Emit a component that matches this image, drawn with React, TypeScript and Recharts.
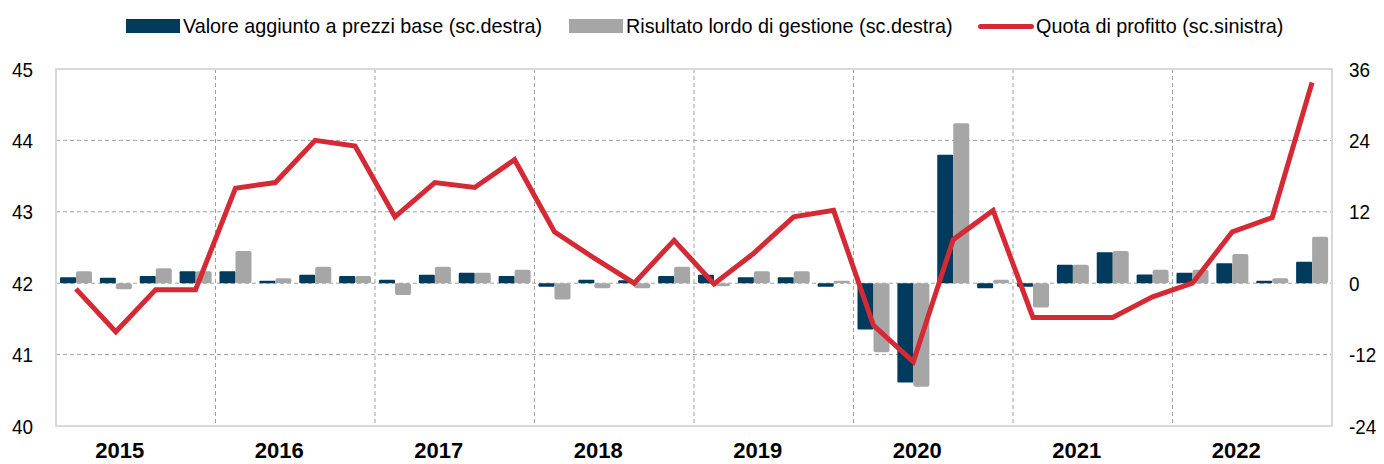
import React from 'react';
import {
  ComposedChart, Bar, Line, XAxis, YAxis, CartesianGrid, ReferenceArea,
} from 'recharts';

const years = ['2015', '2016', '2017', '2018', '2019', '2020', '2021', '2022'];
const quarterLabels = ['T1', 'T2', 'T3', 'T4'];

const valoreAggiunto = [
  1.0, 0.9, 1.2, 2.0,
  2.0, 0.4, 1.4, 1.2,
  0.6, 1.4, 1.75, 1.2,
  -0.6, 0.6, 0.5, 1.2,
  1.4, 1.0, 1.0, -0.6,
  -7.8, -16.7, 21.6, -0.85,
  -0.6, 3.1, 5.2, 1.45,
  1.75, 3.35, 0.4, 3.6,
];

const risultatoLordo = [
  2.0, -1.0, 2.5, 2.0,
  5.4, 0.85, 2.75, 1.2,
  -2.0, 2.75, 1.75, 2.25,
  -2.75, -0.85, -0.85, 2.75,
  -0.5, 2.0, 2.0, 0.4,
  -11.6, -17.4, 26.9, 0.6,
  -4.1, 3.1, 5.4, 2.25,
  2.25, 4.9, 0.85, 7.8,
];

const quotaProfitto = [
  41.92, 41.32, 41.91, 41.91,
  43.33, 43.41, 44.0, 43.92,
  42.93, 43.41, 43.34, 43.73,
  42.72, 42.35, 42.0, 42.6,
  41.99, 42.42, 42.93, 43.02,
  41.41, 40.9, 42.61, 43.02,
  41.52, 41.52, 41.52, 41.81,
  42.0, 42.72, 42.92, 44.81,
];

const leftTicks = [40, 41, 42, 43, 44, 45];
const rightTicks = [-24, -12, 0, 12, 24, 36];
const yearBoundaries = [4, 8, 12, 16, 20, 24, 28];

const data = valoreAggiunto.map((v, i) => ({
  q: `${years[Math.floor(i / 4)]} ${quarterLabels[i % 4]}`,
  year: years[Math.floor(i / 4)],
  idx: i + 0.5,
  va: v,
  rl: risultatoLordo[i],
  qp: quotaProfitto[i],
}));

const DARK = '#003A5C';
const GRAY = '#A6A6A6';
const RED = '#D42A35';
const FONT = '"Liberation Sans", Arial, sans-serif';

const YearTick = (props: any) => {
  const { x, y, index } = props;
  if (index % 4 !== 1) return null;
  return (
    <text
      x={x + 4}
      y={y + 24}
      textAnchor="middle"
      fontFamily={FONT}
      fontWeight="bold"
      fontSize={22}
      fill="#000"
    >
      {data[index].year}
    </text>
  );
};

const TICK_FS = 21;
const CONDENSE = 0.9;

const NumTick = (props: any) => {
  const { x, y, payload, anchor } = props;
  const s = String(payload.value);
  let em = 0;
  for (const ch of s) em += ch === '-' ? 0.333 : 0.556;
  const len = em * TICK_FS * CONDENSE;
  return (
    <text
      x={x}
      y={y}
      dy="0.36em"
      textAnchor={anchor}
      fontFamily={FONT}
      fontSize={TICK_FS}
      fill="#000"
      textLength={len}
      lengthAdjust="spacingAndGlyphs"
    >
      {s}
    </text>
  );
};

const legendItems = [
  { type: 'rect', color: DARK, label: 'Valore aggiunto a prezzi base (sc.destra)', left: 118 },
  { type: 'rect', color: GRAY, label: 'Risultato lordo di gestione (sc.destra)', left: 561 },
  { type: 'line', color: RED, label: 'Quota di profitto (sc.sinistra)', left: 970 },
];

const LegendItem = ({ type, color, label, left }: any) => (
  <div style={{ position: 'absolute', left, top: 5, height: 26, display: 'flex', alignItems: 'center' }}>
    {type === 'rect' ? (
      <div style={{ width: 54, height: 14, background: color, marginRight: 3 }} />
    ) : (
      <div style={{ width: 56, height: 5, background: color, borderRadius: 3, marginRight: 2 }} />
    )}
    <span style={{ fontFamily: FONT, fontSize: 19.8, color: '#000', whiteSpace: 'nowrap' }}>{label}</span>
  </div>
);

export default function App() {
  return (
    <div style={{ position: 'relative', width: 1376, height: 456 }}>
      {legendItems.map((it) => (
        <LegendItem key={it.label} {...it} />
      ))}
      <ComposedChart
        width={1376}
        height={456}
        data={data}
        margin={{ top: 61, right: 0, bottom: 0, left: 0 }}
        barGap={0}
      >
        <XAxis
          dataKey="q"
          xAxisId="cat"
          interval={0}
          axisLine={false}
          tickLine={false}
          tick={<YearTick />}
          height={38}
        />
        <XAxis
          dataKey="idx"
          xAxisId="num"
          type="number"
          domain={[0, 32]}
          allowDataOverflow
          hide
        />
        <YAxis
          yAxisId="left"
          orientation="left"
          domain={[40, 45]}
          ticks={leftTicks}
          interval={0}
          width={48}
          axisLine={false}
          tickLine={false}
          tickSize={0}
          tickMargin={23}
          tick={<NumTick anchor="end" />}
        />
        <YAxis
          yAxisId="right"
          orientation="right"
          domain={[-24, 36]}
          ticks={rightTicks}
          interval={0}
          width={52}
          axisLine={false}
          tickLine={false}
          tickSize={0}
          tickMargin={17}
          tick={<NumTick anchor="start" />}
        />
        <CartesianGrid
          xAxisId="num"
          yAxisId="left"
          horizontalValues={[41, 42, 43, 44]}
          verticalValues={yearBoundaries}
          stroke="#A0A0A0"
          strokeDasharray="4 3"
          strokeWidth={1}
        />
        <ReferenceArea
          xAxisId="num"
          yAxisId="left"
          x1={0}
          x2={32}
          y1={40}
          y2={45}
          fill="none"
          fillOpacity={0}
          stroke="#D9D9D9"
          strokeWidth={2}
          ifOverflow="visible"
        />
        <Bar
          xAxisId="cat"
          yAxisId="right"
          dataKey="va"
          fill={DARK}
          barSize={16}
          radius={1}
          isAnimationActive={false}
        />
        <Bar
          xAxisId="cat"
          yAxisId="right"
          dataKey="rl"
          fill={GRAY}
          barSize={16}
          radius={2}
          isAnimationActive={false}
        />
        <Line
          xAxisId="cat"
          yAxisId="left"
          dataKey="qp"
          stroke={RED}
          strokeWidth={5}
          dot={false}
          activeDot={false}
          strokeLinejoin="miter"
          isAnimationActive={false}
        />
      </ComposedChart>
    </div>
  );
}
